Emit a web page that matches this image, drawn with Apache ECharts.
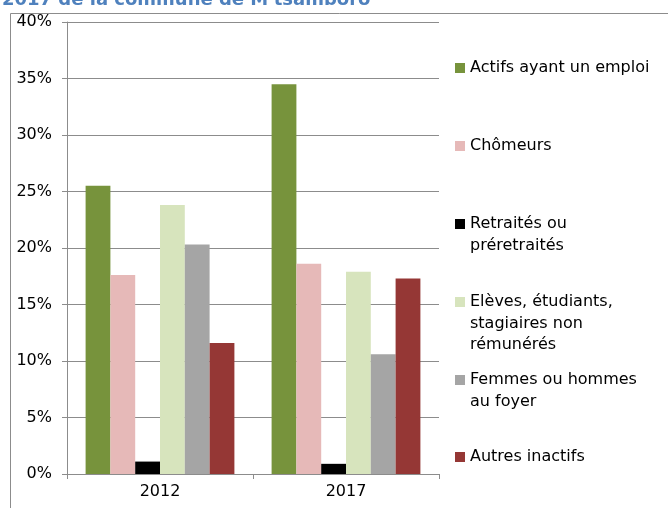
<!DOCTYPE html>
<html>
<head>
<meta charset="utf-8">
<script src="https://cdn.jsdelivr.net/npm/echarts@6/dist/echarts.min.js"></script>
<style>
  html, body { margin: 0; padding: 0; background: #fff; }
  #main { width: 668px; height: 508px; }
</style>
</head>
<body>
<div id="main"></div>
<script>
var years = ['2012', '2017']
var seriesNames = [
  'Actifs ayant un emploi',
  'Chômeurs',
  'Retraités ou préretraités',
  'Elèves, étudiants, stagiaires non rémunérés',
  'Femmes ou hommes au foyer',
  'Autres inactifs'
]
// legend text as wrapped in the original
var legendLines = [
  ['Actifs ayant un emploi'],
  ['Chômeurs'],
  ['Retraités ou', 'préretraités'],
  ['Elèves, étudiants,', 'stagiaires non', 'rémunérés'],
  ['Femmes ou hommes', 'au foyer'],
  ['Autres inactifs']
]
var actifs = [25.5, 34.5]
var chomeurs = [17.6, 18.6]
var retraites = [1.1, 0.9]
var eleves = [23.8, 17.9]
var femmes = [20.3, 10.6]
var autres = [11.6, 17.3]
var seriesValues = [actifs, chomeurs, retraites, eleves, femmes, autres]
var colors = ['#77933C', '#E6B9B8', '#000000', '#D7E4BD', '#A5A5A5', '#953735']

var font = 'DejaVu Sans'
var axisGray = '#8C8C8C'
var lh = 21.5
var iconCenters = [68, 146, 224, 302, 380, 457]

var chartDom = document.getElementById('main')
var myChart = echarts.init(chartDom, null, { renderer: 'canvas' })
var option

// the icon sits at the middle of the text block, so blank lines are put
// above the text to bring the first line level with the icon
var legends = seriesNames.map(function (name, i) {
  var n = legendLines[i].length
  var blanks = []
  for (var k = 1; k < n; k++) blanks.push(' ')
  return {
    data: [name],
    left: 455,
    top: iconCenters[i] - lh * (2 * n - 1) / 2,
    padding: 0,
    icon: 'rect',
    itemWidth: 10,
    itemHeight: 10,
    selectedMode: false,
    formatter: function () { return blanks.concat(legendLines[i]).join('\n') },
    textStyle: {
      fontFamily: font,
      fontSize: 16,
      color: '#000',
      lineHeight: lh
    }
  }
})

option = {
  backgroundColor: '#fff',
  animation: false,
  color: colors,
  title: {
    text: "2017 de la commune de M'tsamboro",
    left: 2,
    top: -9,
    padding: 0,
    textStyle: {
      fontFamily: font,
      fontSize: 18,
      fontWeight: 'bold',
      color: '#4F81BD'
    }
  },
  graphic: [
    {
      type: 'rect',
      silent: true,
      shape: { x: 10.5, y: 13.5, width: 700, height: 600 },
      style: { fill: 'none', stroke: axisGray, lineWidth: 1 }
    }
  ],
  legend: legends,
  grid: {
    left: 67,
    right: 229,
    top: 22,
    bottom: 34
  },
  xAxis: {
    type: 'category',
    data: years,
    axisLine: { lineStyle: { color: axisGray } },
    axisTick: { show: true, length: 5, lineStyle: { color: axisGray } },
    axisLabel: {
      margin: 10,
      fontFamily: font,
      fontSize: 16,
      color: '#000'
    }
  },
  yAxis: {
    type: 'value',
    min: 0,
    max: 40,
    interval: 5,
    axisLine: { show: true, lineStyle: { color: axisGray } },
    axisTick: { show: true, length: 5, lineStyle: { color: axisGray } },
    axisLabel: {
      formatter: '{value}%',
      margin: 15,
      fontFamily: font,
      fontSize: 16,
      color: '#000'
    },
    splitLine: { lineStyle: { color: axisGray } }
  },
  series: seriesNames.map(function (name, i) {
    return {
      name: name,
      type: 'bar',
      barGap: '0%',
      barCategoryGap: '20%',
      data: seriesValues[i]
    }
  })
}

option && myChart.setOption(option)
</script>
</body>
</html>
